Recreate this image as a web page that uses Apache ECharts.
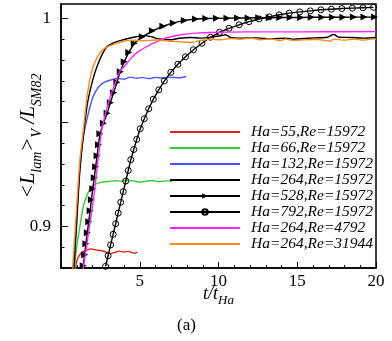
<!DOCTYPE html>
<html>
<head>
<meta charset="utf-8">
<script src="https://cdn.jsdelivr.net/npm/echarts@6/dist/echarts.min.js"></script>
<style>
html, body { margin: 0; padding: 0; background: #fff; }
#chart { width: 392px; height: 341px; }
</style>
</head>
<body>
<div id="chart"></div>
<script>
// 图例名称
const names = [
    'Ha=55,Re=15972',
    'Ha=66,Re=15972',
    'Ha=132,Re=15972',
    'Ha=264,Re=15972',
    'Ha=528,Re=15972',
    'Ha=792,Re=15972',
    'Ha=264,Re=4792',
    'Ha=264,Re=31944'
];
const colors = ['#e02222', '#33cc33', '#4a55ff', '#000000', '#000000', '#000000', '#ff22ff', '#ff8a1c'];

// [t/tHa, <Llam>/L_SM82]
const ha55 = [
    [0.9, 0.878], [1.0, 0.8832], [1.1, 0.8852], [1.25, 0.887], [1.45, 0.8881], [1.7, 0.8888],
    [1.9, 0.8892], [2.2, 0.8887], [2.5, 0.8884], [2.8, 0.8878], [3.1, 0.8869], [3.4, 0.8874],
    [3.7, 0.8881], [4.0, 0.8877], [4.3, 0.888], [4.5, 0.8874], [4.7, 0.8871], [4.85, 0.8877]
];
const ha66 = [
    [0.85, 0.878], [0.95, 0.887], [1.05, 0.893], [1.2, 0.9], [1.4, 0.909], [1.6, 0.914],
    [1.75, 0.9168], [2.0, 0.9195], [2.3, 0.9207], [2.6, 0.9213], [3.0, 0.9216], [3.4, 0.922],
    [3.8, 0.9218], [4.2, 0.9222], [4.6, 0.9219], [5.0, 0.9213], [5.4, 0.9218], [5.8, 0.9221],
    [6.2, 0.9215], [6.6, 0.9219], [7.05, 0.9217]
];
const ha132 = [
    [0.8, 0.878], [1.0, 0.905], [1.2, 0.928], [1.4, 0.942], [1.6, 0.95], [1.95, 0.9606],
    [2.2, 0.965], [2.5, 0.968], [2.8, 0.9695], [3.2, 0.9705], [3.6, 0.9712], [4.0, 0.9708],
    [4.4, 0.9718], [4.8, 0.9713], [5.2, 0.9716], [5.6, 0.9711], [6.0, 0.9717], [6.5, 0.9714],
    [7.0, 0.9718], [7.5, 0.9715], [7.95, 0.9721]
];
const ha264 = [
    [0.8, 0.878], [1.0, 0.902], [1.2, 0.927], [1.46, 0.9464], [1.7, 0.96], [2.0, 0.97],
    [2.27, 0.9766], [2.6, 0.9825], [2.91, 0.9863], [3.4, 0.9885], [3.95, 0.9898], [4.6, 0.991],
    [5.35, 0.9918], [5.8, 0.9911], [6.2, 0.9902], [7.0, 0.9898], [7.5, 0.9905], [8.22, 0.9909],
    [8.85, 0.9906], [9.49, 0.991], [10.13, 0.9917], [10.45, 0.9922], [10.76, 0.9909], [11.4, 0.9906],
    [12.46, 0.9907], [13.31, 0.9902], [14.27, 0.9906], [14.78, 0.9901], [15.41, 0.9904],
    [16.05, 0.9907], [16.9, 0.991], [17.32, 0.9923], [17.64, 0.991], [18.38, 0.9909],
    [19.23, 0.9906], [20.0, 0.9909]
];
const ha528 = [
    [1.38, 0.879], [1.41, 0.8811], [1.5, 0.8864], [1.58, 0.8917], [1.67, 0.897], [1.76, 0.9023],
    [1.85, 0.9075], [1.93, 0.9128], [2.02, 0.9181], [2.11, 0.9234], [2.2, 0.9287], [2.29, 0.934],
    [2.38, 0.9393], [2.47, 0.9446], [2.69, 0.9496], [2.93, 0.9544], [3.13, 0.9595], [3.34, 0.9643],
    [3.55, 0.9693], [3.76, 0.9744], [4.01, 0.9792], [4.3, 0.9837], [4.65, 0.9881], [5.16, 0.9912],
    [5.8, 0.9941], [6.47, 0.9963], [7.13, 0.9979], [7.83, 0.9991], [8.54, 0.9998], [9.2, 1.0],
    [9.87, 1.0001], [10.54, 1.0002], [11.21, 1.0003], [11.88, 1.0003], [12.55, 1.0004],
    [13.22, 1.0004], [13.89, 1.0005], [14.55, 1.0005], [15.22, 1.0005], [15.89, 1.0006],
    [16.56, 1.0006], [17.23, 1.0006], [17.9, 1.0006], [18.57, 1.0007], [19.24, 1.0007], [19.9, 1.0007]
];
const ha792 = [
    [2.83, 0.8808], [2.99, 0.8859], [3.15, 0.8911], [3.31, 0.8962], [3.47, 0.9013], [3.63, 0.9064],
    [3.79, 0.9116], [3.95, 0.9167], [4.11, 0.9218], [4.27, 0.9269], [4.43, 0.9321], [4.62, 0.937],
    [4.81, 0.9419], [5.03, 0.947], [5.29, 0.9518], [5.57, 0.9566], [5.86, 0.9612], [6.21, 0.9657],
    [6.56, 0.97], [6.97, 0.9741], [7.42, 0.978], [7.9, 0.9816], [8.41, 0.985], [8.95, 0.9881],
    [9.49, 0.991], [10.06, 0.9934], [10.67, 0.9953], [11.31, 0.997], [11.94, 0.9985], [12.58, 0.9998],
    [13.22, 1.0008], [13.85, 1.0018], [14.49, 1.0026], [15.16, 1.0032], [15.83, 1.0037], [16.5, 1.0042],
    [17.17, 1.0045], [17.83, 1.0048], [18.5, 1.005], [19.17, 1.0052], [19.84, 1.0054]
];
const re4792 = [
    [1.4, 0.879], [1.75, 0.897], [2.06, 0.913], [2.35, 0.932], [2.59, 0.9465], [2.85, 0.955],
    [3.12, 0.9622], [3.45, 0.969], [3.76, 0.975], [4.08, 0.9774], [4.4, 0.9805], [4.71, 0.983],
    [5.1, 0.985], [5.56, 0.987], [6.2, 0.9893], [6.83, 0.991], [7.6, 0.9922], [8.54, 0.993],
    [10.0, 0.9934], [12.0, 0.9936], [15.0, 0.9936], [20.0, 0.9937]
];
const re31944 = [
    [0.72, 0.878], [1.0, 0.91], [1.2, 0.932], [1.42, 0.9464], [1.7, 0.965], [2.06, 0.9774],
    [2.59, 0.9846], [3.12, 0.987], [3.97, 0.9891], [4.6, 0.9896], [5.3, 0.9893], [6.0, 0.9897],
    [6.8, 0.9892], [7.5, 0.9889], [8.22, 0.9885], [8.85, 0.9894], [9.49, 0.9901], [10.13, 0.9898],
    [10.76, 0.9904], [11.4, 0.9901], [12.03, 0.9906], [12.67, 0.9898], [13.31, 0.9902], [13.95, 0.9894],
    [14.27, 0.9901], [14.78, 0.9894], [15.41, 0.9898], [16.26, 0.9899], [17.1, 0.9891], [17.32, 0.9901],
    [17.96, 0.9896], [18.6, 0.9901], [19.23, 0.9896], [19.87, 0.9903], [20.0, 0.9899]
];
const allData = [ha55, ha66, ha132, ha264, ha528, ha792, re4792, re31944];

// 刻度
const yMajorTicks = [0.9, 0.95, 1.0];
const yLabels = [0.9, 1.0];
const yMinorTicks = [0.88, 0.89, 0.9, 0.91, 0.92, 0.93, 0.94, 0.95, 0.96, 0.97, 0.98, 0.99, 1.0];

const serif = '"Liberation Serif", "DejaVu Serif", serif';

const eChart = echarts.init(document.getElementById('chart'));

const series = allData.map((d, i) => {
    const s = {
        name: names[i],
        type: 'line',
        data: d,
        smooth: 0.3,
        symbol: 'none',
        lineStyle: { color: colors[i], width: 1.4 },
        itemStyle: { color: colors[i] },
        z: 2 + i
    };
    if (i === 4) {
        // 三角形标记
        s.symbol = 'triangle';
        s.symbolSize = 7;
        s.symbolRotate = -90;
        s.showSymbol = true;
        s.smooth = false;
    }
    if (i === 5) {
        s.symbol = 'circle';
        s.symbolSize = 6;
        s.showSymbol = true;
        s.smooth = false;
        s.itemStyle = { color: 'rgba(255,255,255,0)', borderColor: '#000', borderWidth: 1 };
    }
    return s;
});

// 没有标记的曲线，图例里只画线
const legendData = names.map((n, i) => {
    if (i === 4 || i === 5) {
        return { name: n };
    }
    return { name: n, itemStyle: { opacity: 0 } };
});

const option = {
    animation: false,
    grid: {
        left: 61,
        right: 16,
        top: 4,
        bottom: 73,
        outerBoundsMode: 'none',
        containLabel: false,
        show: true,
        borderColor: '#000',
        borderWidth: 1.5,
        backgroundColor: 'transparent'
    },
    legend: {
        orient: 'vertical',
        left: 169,
        top: 124,
        itemWidth: 70,
        itemHeight: 7,
        itemGap: 0,
        padding: 0,
        data: legendData,
        textStyle: {
            fontFamily: serif,
            fontStyle: 'italic',
            fontSize: 15.5,
            color: '#000',
            lineHeight: 15.3,
            padding: [0, 0, 0, 6]
        }
    },
    xAxis: {
        type: 'value',
        min: 0,
        max: 20,
        interval: 5,
        name: '{m|t/t}{s|Ha}',
        nameLocation: 'middle',
        nameGap: 17,
        nameMoveOverlap: false,
        nameTextStyle: {
            rich: {
                m: { fontFamily: serif, fontStyle: 'italic', fontSize: 18, color: '#000', lineHeight: 22, verticalAlign: 'top' },
                s: { fontFamily: serif, fontStyle: 'italic', fontSize: 13, color: '#000', lineHeight: 16, verticalAlign: 'bottom' }
            }
        },
        axisLine: { show: true, lineStyle: { color: '#000', width: 1.5 } },
        axisTick: { inside: true, length: 6, lineStyle: { color: '#000' } },
        minorTick: { show: true, splitNumber: 5, length: 3, lineStyle: { color: '#000' } },
        axisLabel: {
            fontFamily: serif,
            fontSize: 17,
            color: '#000',
            margin: 5,
            formatter: v => (v === 0 ? '' : String(v))
        },
        splitLine: { show: false }
    },
    yAxis: [
        {
            type: 'value',
            min: 0.88,
            max: 1.007,
            name: '{m|<L}{s|lam}{m|>}{s|V}{m| /L}{s|SM82}',
            nameLocation: 'middle',
            nameRotate: 90,
            nameGap: 17,
            nameMoveOverlap: false,
            nameTextStyle: {
                rich: {
                    m: { fontFamily: serif, fontStyle: 'italic', fontSize: 21, color: '#000', lineHeight: 26, verticalAlign: 'top' },
                    s: { fontFamily: serif, fontStyle: 'italic', fontSize: 14, color: '#000', lineHeight: 17, verticalAlign: 'bottom' }
                }
            },
            axisLine: { show: true, lineStyle: { color: '#000', width: 1.5 } },
            axisTick: { inside: true, length: 7, customValues: yMajorTicks, lineStyle: { color: '#000' } },
            axisLabel: {
                fontFamily: serif,
                fontSize: 17,
                color: '#000',
                margin: 10,
                customValues: yLabels,
                formatter: v => (v === 1 ? '1' : v.toFixed(1))
            },
            splitLine: { show: false }
        },
        {
            type: 'value',
            min: 0.88,
            max: 1.007,
            position: 'left',
            axisLine: { show: false },
            axisTick: { inside: true, length: 3.5, customValues: yMinorTicks, lineStyle: { color: '#000' } },
            axisLabel: { show: false },
            splitLine: { show: false }
        }
    ],
    graphic: [
        {
            type: 'text',
            left: 177,
            top: 317,
            style: { text: '(a)', fontFamily: serif, fontSize: 17, fill: '#000' }
        }
    ],
    series: series
};
eChart.setOption(option);
</script>
</body>
</html>
